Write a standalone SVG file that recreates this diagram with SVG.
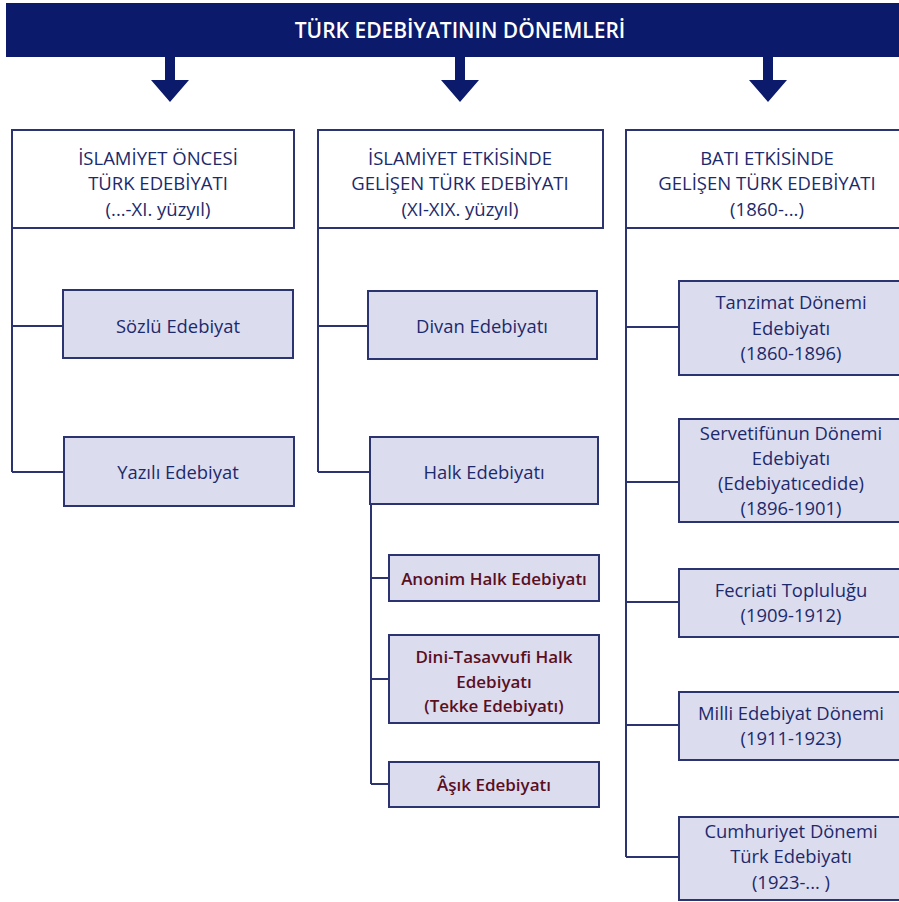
<svg xmlns="http://www.w3.org/2000/svg" width="899" height="902" viewBox="0 0 899 902">
<style>
.hdr{fill:#ffffff;stroke:#2b3470;stroke-width:2}
.box{fill:#dcdcef;stroke:#2b3470;stroke-width:2}
.t{font-family:"Open Sans","Liberation Sans",sans-serif;font-size:18.4px;fill:#1c2a6b;text-anchor:middle}
.h{font-family:"Open Sans","Liberation Sans",sans-serif;font-size:18.5px;fill:#1c2a6b;text-anchor:middle}
.r{font-family:"Open Sans","Liberation Sans",sans-serif;font-size:17px;font-weight:600;fill:#5a0f1f;text-anchor:middle}
.ln{fill:none;stroke:#2b3470;stroke-width:2}
.arr{fill:#0b1a6b}
</style>
<rect width="899" height="902" fill="#ffffff"/>
<g id="title">
<rect x="6" y="3" width="900" height="54" fill="#0b1a6b"/>
<text x="460" y="38" font-family="Open Sans, Liberation Sans, sans-serif" font-size="21" font-weight="600" fill="#ffffff" text-anchor="middle">TÜRK EDEBİYATININ DÖNEMLERİ</text>
</g>
<g id="connectors">
<path class="arr" d="M165 57h10v23h14l-19 22l-19-22h14z"/>
<path class="arr" d="M455 57h10v23h14l-19 22l-19-22h14z"/>
<path class="arr" d="M763 57h10v23h14l-19 22l-19-22h14z"/>
<path class="ln" d="M12 228V472M12 326H63M12 472H64"/>
<path class="ln" d="M318 228V472M318 326H368M318 472H370"/>
<path class="ln" d="M371 505V784M371 578H389M371 679H389M371 784H389"/>
<path class="ln" d="M626 228V857M626 327H679M626 482H679M626 602H679M626 725H679M626 857H679"/>
</g>
<g id="n1"><rect class="hdr" x="12" y="130" width="282" height="98"/>
<text class="h" x="158" y="165">İSLAMİYET ÖNCESİ</text><text class="h" x="158" y="190">TÜRK EDEBİYATI</text><text class="h" x="158" y="216">(...-XI. yüzyıl)</text></g>
<g id="n2"><rect class="hdr" x="318" y="130" width="285" height="98"/>
<text class="h" x="460" y="165">İSLAMİYET ETKİSİNDE</text><text class="h" x="460" y="190">GELİŞEN TÜRK EDEBİYATI</text><text class="h" x="460" y="216">(XI-XIX. yüzyıl)</text></g>
<g id="n3"><rect class="hdr" x="626" y="130" width="290" height="98"/>
<text class="h" x="767" y="165">BATI ETKİSİNDE</text><text class="h" x="767" y="190">GELİŞEN TÜRK EDEBİYATI</text><text class="h" x="767" y="216">(1860-...)</text></g>
<g id="sozlu"><rect class="box" x="63" y="290" width="230" height="68"/><text class="t" x="178" y="332.5">Sözlü Edebiyat</text></g>
<g id="yazili"><rect class="box" x="64" y="437" width="230" height="69"/><text class="t" x="178" y="478.5">Yazılı Edebiyat</text></g>
<g id="divan"><rect class="box" x="368" y="291" width="229" height="68"/><text class="t" x="482" y="332.5">Divan Edebiyatı</text></g>
<g id="halk"><rect class="box" x="370" y="437" width="228" height="67"/><text class="t" x="484" y="478.5">Halk Edebiyatı</text></g>
<g id="anonim"><rect class="box" x="389" y="555" width="210" height="46"/><text class="r" x="494" y="585">Anonim Halk Edebiyatı</text></g>
<g id="dini"><rect class="box" x="389" y="635" width="210" height="88"/><text class="r" x="494" y="663">Dini-Tasavvufi Halk</text><text class="r" x="494" y="688">Edebiyatı</text><text class="r" x="494" y="712">(Tekke Edebiyatı)</text></g>
<g id="asik"><rect class="box" x="389" y="762" width="210" height="45"/><text class="r" x="494" y="791">Âşık Edebiyatı</text></g>
<g id="tanzimat"><rect class="box" x="679" y="281" width="240" height="94"/><text class="t" x="791" y="309.4">Tanzimat Dönemi</text><text class="t" x="791" y="334.6">Edebiyatı</text><text class="t" x="791" y="359.8">(1860-1896)</text></g>
<g id="servet"><rect class="box" x="679" y="419" width="240" height="103"/><text class="t" x="791" y="439.8">Servetifünun Dönemi</text><text class="t" x="791" y="465">Edebiyatı</text><text class="t" x="791" y="490.2">(Edebiyatıcedide)</text><text class="t" x="791" y="515.4">(1896-1901)</text></g>
<g id="fecriati"><rect class="box" x="679" y="569" width="240" height="68"/><text class="t" x="791" y="597">Fecriati Topluluğu</text><text class="t" x="791" y="622.2">(1909-1912)</text></g>
<g id="milli"><rect class="box" x="679" y="692" width="240" height="68"/><text class="t" x="791" y="720">Milli Edebiyat Dönemi</text><text class="t" x="791" y="745.2">(1911-1923)</text></g>
<g id="cumhuriyet"><rect class="box" x="679" y="817" width="240" height="83"/><text class="t" x="791" y="838.2">Cumhuriyet Dönemi</text><text class="t" x="791" y="863.4">Türk Edebiyatı</text><text class="t" x="791" y="888.6">(1923-... )</text></g>
</svg>
